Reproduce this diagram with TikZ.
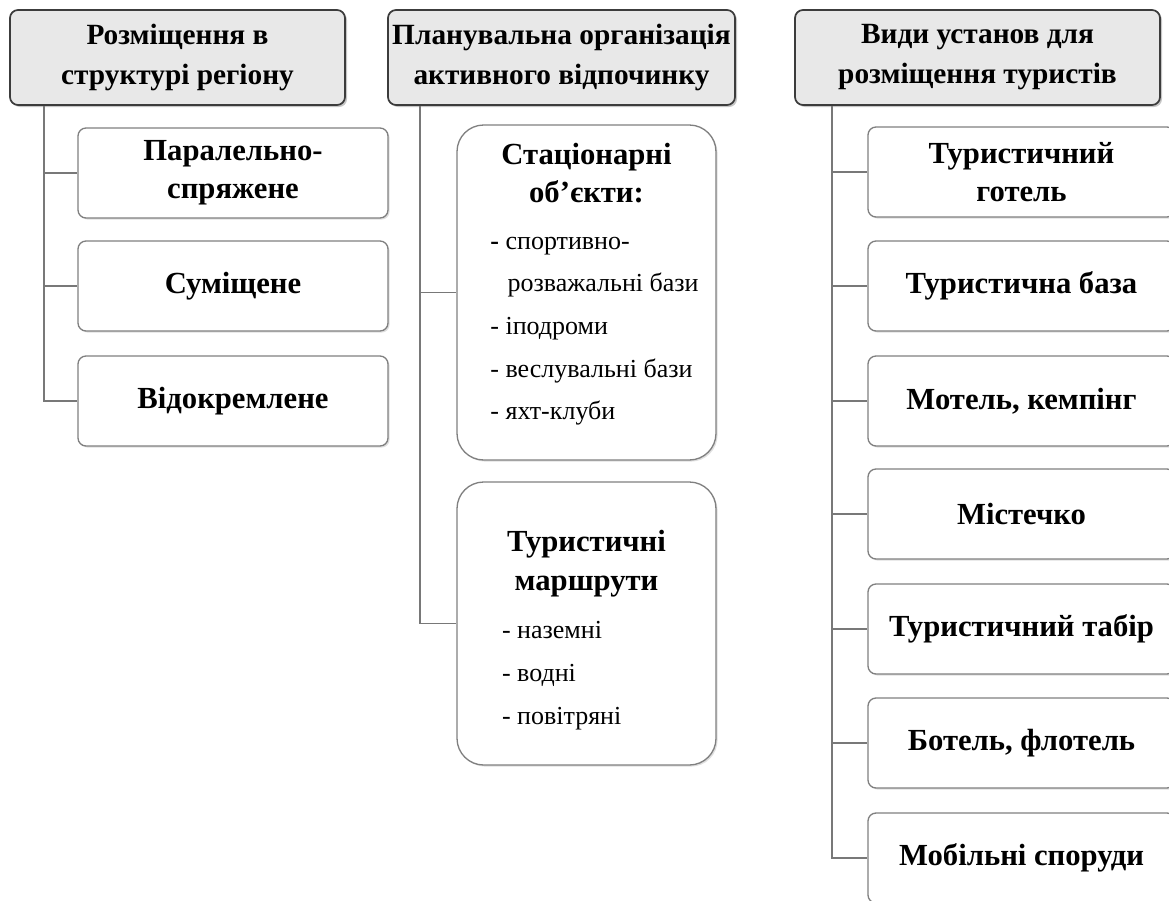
\documentclass[tikz,border=0pt]{standalone}
\usepackage{fontspec}
\setmainfont{Liberation Serif}
\usetikzlibrary{shadows}

\tikzset{every picture/.style={line width=0.75pt}}
\definecolor{headfill}{RGB}{232,232,232}
\definecolor{headline}{RGB}{60,60,60}
\definecolor{boxline}{RGB}{128,128,128}
\definecolor{linkline}{RGB}{120,120,120}

\tikzset{
  headbox/.style={draw=headline, line width=1.3pt, fill=headfill, rounded corners=6pt,
    align=center, inner sep=0pt, font=\fontsize{22}{30}\selectfont\bfseries,
    drop shadow={shadow xshift=1.5pt, shadow yshift=-1.5pt, opacity=0.45}},
  itembox/.style={draw=boxline, line width=1pt, fill=white, rounded corners=6pt,
    align=center, inner sep=0pt, font=\fontsize{23}{28.5}\selectfont\bfseries,
    minimum height=67.5pt,
    drop shadow={shadow xshift=1.2pt, shadow yshift=-1.2pt, opacity=0.25}},
  groupbox/.style={draw=boxline, line width=1pt, fill=white, rounded corners=20pt,
    align=center, inner sep=0pt, minimum width=194.25pt,
    font=\fontsize{23}{29}\selectfont,
    drop shadow={shadow xshift=1.2pt, shadow yshift=-1.2pt, opacity=0.25}},
  link/.style={draw=linkline, line width=1.1pt}
}
\newcommand{\listfont}{\fontsize{19.5}{32}\selectfont\mdseries}

\begin{document}
\begin{tikzpicture}[x=0.75pt,y=0.75pt,yscale=-1,xscale=1]
			\useasboundingbox (0,0) rectangle (1169,900);

			% Header Nodes
			\node [headbox, minimum width=251.25pt, minimum height=71.25pt] (hPlace) at (177.5,57.5) {Розміщення в\\структурі регіону};
			\node [headbox, minimum width=260.25pt, minimum height=71.25pt] (hPlan) at (561.5,57.5) {Планувальна організація\\активного відпочинку};
			\node [headbox, minimum width=273.75pt, minimum height=71.25pt] (hStay) at (977.5,57.5) {Види установ для\\розміщення туристів};

			% Left column
			\node [itembox, minimum width=232.5pt] (pParal) at (233,173) {Паралельно-\\спряжене};
			\node [itembox, minimum width=232.5pt] (pJoint) at (233,286) {Суміщене};
			\node [itembox, minimum width=232.5pt] (pApart) at (233,401) {Відокремлене};

			% Middle column
			\node [groupbox, minimum height=251.25pt] (gStat) at (586.5,292.5) {\textbf{Стаціонарні}\\\textbf{об'єкти:}\\[11pt]{\listfont\begin{tabular}{@{\hspace{12pt}}l@{}}\textbf{-} спортивно-\\\hspace{13pt}розважальні бази\\- іподроми\\- веслувальні бази\\- яхт-клуби\\[7pt]\end{tabular}}};
			\node [groupbox, minimum height=212.25pt] (gRoute) at (586.5,623.5) {\rule{0pt}{31pt}\textbf{Туристичні}\\\textbf{маршрути}\\[8pt]{\listfont\begin{tabular}{@{}p{126.75pt}@{}}- наземні\\- водні\\- повітряні\end{tabular}}};

			% Right column
			\node [itembox, minimum width=230.25pt] (sHotel) at (1021.5,172) {Туристичний\\готель};
			\node [itembox, minimum width=230.25pt] (sBase) at (1021.5,286) {Туристична база};
			\node [itembox, minimum width=230.25pt] (sMotel) at (1021.5,401) {Мотель, кемпінг};
			\node [itembox, minimum width=230.25pt] (sTown) at (1021.5,514) {Містечко};
			\node [itembox, minimum width=230.25pt] (sCamp) at (1021.5,629) {Туристичний табір};
			\node [itembox, minimum width=230.25pt] (sBoat) at (1021.5,743) {Ботель, флотель};
			\node [itembox, minimum width=230.25pt] (sMobile) at (1021.5,858) {Мобільні споруди};

			% Connectors
			\foreach \n in {pParal,pJoint,pApart}
				\draw [link] ([xshift=26.25pt]hPlace.south west) |- (\n.west);
			\foreach \n in {gStat,gRoute}
				\draw [link] ([xshift=24.75pt]hPlan.south west) |- (\n.west);
			\foreach \n in {sHotel,sBase,sMotel,sTown,sCamp,sBoat,sMobile}
				\draw [link] ([xshift=28.5pt]hStay.south west) |- (\n.west);

		\end{tikzpicture}
\end{document}
